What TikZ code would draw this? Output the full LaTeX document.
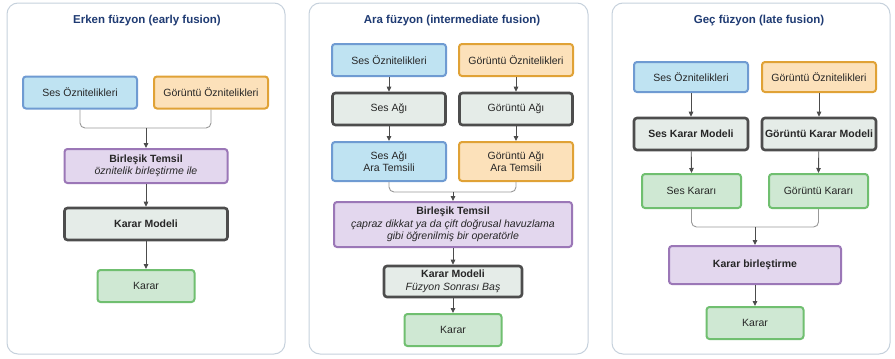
\documentclass[tikz,border=0pt]{standalone}
\usepackage{fontspec}
\setmainfont{Liberation Sans}
\usetikzlibrary{arrows.meta,positioning}
\definecolor{sesfill}{HTML}{BFE3F2}
\definecolor{sesdraw}{HTML}{6F9BD2}
\definecolor{gorfill}{HTML}{FCE1BA}
\definecolor{gordraw}{HTML}{E0A236}
\definecolor{birfill}{HTML}{E3D7EE}
\definecolor{birdraw}{HTML}{9B77B7}
\definecolor{modfill}{HTML}{E5ECE8}
\definecolor{moddraw}{HTML}{4D4D4D}
\definecolor{karfill}{HTML}{CFE8D3}
\definecolor{kardraw}{HTML}{70BF70}
\definecolor{panelline}{HTML}{C6D1DC}
\definecolor{titlecol}{HTML}{1F3B73}
\begin{document}
\begin{tikzpicture}[
    x=1pt, y=-1pt,
    font=\fontsize{10.5}{12.5}\selectfont,
    panel/.style={draw=panelline, line width=1pt, rounded corners=11pt, fill=white},
    title/.style={font=\fontsize{11.5}{13}\selectfont\bfseries, text=titlecol},
    box/.style={draw, rounded corners=3pt, line width=2pt, align=center, inner sep=2pt, text=black!85},
    sesbox/.style={box, fill=sesfill, draw=sesdraw, minimum width=114pt, minimum height=32pt},
    gorbox/.style={box, fill=gorfill, draw=gordraw, minimum width=114pt, minimum height=32pt},
    birbox/.style={box, fill=birfill, draw=birdraw},
    modbox/.style={box, fill=modfill, draw=moddraw, line width=2.6pt},
    karbox/.style={box, fill=karfill, draw=kardraw, minimum width=97pt, minimum height=32pt},
    arrow/.style={-{Triangle[length=5pt, width=4.5pt]}, line width=0.9pt, draw=black!70},
    merge/.style={line width=0.9pt, draw=black!40, rounded corners=5pt}
]
\useasboundingbox (0,0) rectangle (895,359);

% erken fuzyon
\draw[panel] (7,3) rectangle (285,354);
\node[title] (t1) at (147,21) {Erken füzyon (early fusion)};
\node[sesbox] (ses1) at (80,92.5) {Ses Öznitelikleri};
\node[gorbox] (gor1) at (211,92.5) {Görüntü Öznitelikleri};
\coordinate (j1) at (146,128);
\node[birbox, minimum width=163pt, minimum height=34pt] (bir1) at (146,166)
  {\textbf{Birleşik Temsil}\\\textit{öznitelik birleştirme ile}};
\node[modbox, minimum width=163pt, minimum height=32pt] (mod1) at (146,224) {\textbf{Karar Modeli}};
\node[karbox] (kar1) at (146,286) {Karar};

% ara fuzyon
\draw[panel] (309,3) rectangle (588,354);
\node[title] (t2) at (452,21) {Ara füzyon (intermediate fusion)};
\node[sesbox] (ses2) at (389,60) {Ses Öznitelikleri};
\node[gorbox] (gor2) at (516,60) {Görüntü Öznitelikleri};
\node[modbox, minimum width=113pt, minimum height=32pt] (sag2) at (389,109) {Ses Ağı};
\node[modbox, minimum width=113pt, minimum height=32pt] (gag2) at (516,109) {Görüntü Ağı};
\node[sesbox, minimum height=39pt] (sat2) at (389,161.5) {Ses Ağı\\Ara Temsili};
\node[gorbox, minimum height=39pt] (gat2) at (516,161.5) {Görüntü Ağı\\Ara Temsili};
\coordinate (j2) at (453,192);
\node[birbox, minimum width=238pt, minimum height=45pt] (bir2) at (453,224.5)
  {\textbf{Birleşik Temsil}\\\textit{çapraz dikkat ya da çift doğrusal havuzlama}\\\textit{gibi öğrenilmiş bir operatörle}};
\node[modbox, minimum width=138pt, minimum height=31pt] (mod2) at (453,281.5)
  {\textbf{Karar Modeli}\\\textit{Füzyon Sonrası Baş}};
\node[karbox] (kar2) at (453,330) {Karar};

% gec fuzyon
\draw[panel] (612,3) rectangle (890,354);
\node[title] (t3) at (759,21) {Geç füzyon (late fusion)};
\node[sesbox, minimum height=30pt] (ses3) at (691,77) {Ses Öznitelikleri};
\node[gorbox, minimum height=30pt] (gor3) at (819,77) {Görüntü Öznitelikleri};
\node[modbox, minimum width=114pt, minimum height=32pt, inner sep=1pt] (sm3) at (691,134) {\textbf{Ses Karar Modeli}};
\node[modbox, minimum width=114pt, minimum height=32pt, inner sep=1pt] (gm3) at (819,134) {\textbf{Görüntü Karar Modeli}};
\node[karbox, minimum width=99pt, minimum height=34pt] (sk3) at (691.5,191) {Ses Kararı};
\node[karbox, minimum width=99pt, minimum height=34pt] (gk3) at (818.5,191) {Görüntü Kararı};
\coordinate (j3) at (755,227);
\node[birbox, minimum width=172pt, minimum height=38pt] (kb3) at (755,265) {\textbf{Karar birleştirme}};
\node[karbox] (kar3) at (755,323) {Karar};

% merging lines
\foreach \n/\j in {ses1/j1, gor1/j1, sat2/j2, gat2/j2, sk3/j3, gk3/j3}
  \draw[merge] (\n.south) |- (\j);

% arrows
\foreach \i/\j in {j1/bir1, bir1/mod1, mod1/kar1,
                   ses2/sag2, gor2/gag2, sag2/sat2, gag2/gat2, j2/bir2, bir2/mod2, mod2/kar2,
                   ses3/sm3, gor3/gm3, sm3/sk3, gm3/gk3, j3/kb3, kb3/kar3}
  \draw[arrow] (\i) -- (\j.north);
\end{tikzpicture}
\end{document}
